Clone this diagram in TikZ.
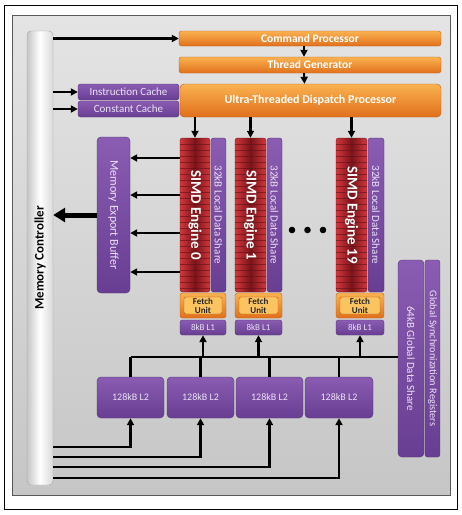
\documentclass[tikz,border=0pt]{standalone}
\usepackage{fontspec}
\setmainfont{Carlito}
\usetikzlibrary{arrows.meta}
\definecolor{orangeT}{RGB}{250,178,80}
\definecolor{orangeB}{RGB}{225,112,28}
\definecolor{fetchIn}{RGB}{252,196,96}
\definecolor{purpleT}{RGB}{138,92,178}
\definecolor{purpleB}{RGB}{104,62,146}
\definecolor{purpleTxt}{RGB}{236,226,246}
\definecolor{redL}{RGB}{210,55,60}
\definecolor{redD}{RGB}{120,20,26}
\definecolor{panelT}{RGB}{228,228,228}
\definecolor{panelB}{RGB}{198,198,198}

\begin{document}
\begin{tikzpicture}[x=1pt,y=-1pt,
  dims/.style 2 args={minimum width=#1pt,minimum height=#2pt},
  orangebox/.style={rectangle,inner sep=0pt,rounded corners=2.5pt,top color=orangeT,bottom color=orangeB,draw=orangeB!85!black,text=white,font=\bfseries\fontsize{11.5}{13}\selectfont},
  purplebox/.style={rectangle,inner sep=0pt,rounded corners=2.5pt,top color=purpleT,bottom color=purpleB,draw=purpleB!80!black,text=purpleTxt,font=\fontsize{11}{13}\selectfont},
  simdbox/.style={rectangle,inner sep=0pt,rounded corners=2.5pt,left color=redL,right color=redL,middle color=redD,draw=redD,
    path picture={\foreach \k in {1,...,26}
      \draw[redD!80!black,line width=0.7pt,opacity=0.6] ([yshift=-\k*6pt]path picture bounding box.north west) -- ([yshift=-\k*6pt]path picture bounding box.north east);}},
  fetchbox/.style={orangebox,align=center,text=black!85,font=\bfseries\fontsize{9}{9}\selectfont,
    path picture={\draw[orangeB!80!black,fill=fetchIn,rounded corners=1.5pt] ([xshift=4pt,yshift=-4pt]path picture bounding box.north west) rectangle ([xshift=-4pt,yshift=4pt]path picture bounding box.south east);}},
  enginetext/.style={rotate=-90,inner sep=0pt,text=white,font=\bfseries\fontsize{15}{16}\selectfont},
  vtext/.style={rotate=-90,inner sep=0pt,text=purpleTxt},
  wire/.style={draw,line width=2.2pt},
  arr/.style={wire,-{Triangle[length=7pt,width=7pt]}}]
\useasboundingbox (0,0) rectangle (462,515);
\draw[fill=white] (4,5) rectangle (457,509);
\draw[gray!70!black,top color=panelT,bottom color=panelB] (12,15) rectangle (450,495);

% memory controller
\node[rectangle,rounded corners=4pt,dims={26}{454},left color=gray!45,right color=gray!30,middle color=white,draw=gray!70,
  label={[rotate=90,font=\bfseries\fontsize{13}{15}\selectfont]center:Memory Controller}] (mc) at (40,258) {};

% front end
\node[orangebox,dims={262}{15}] (cp) at (310,38.5) {Command Processor};
\node[orangebox,dims={262}{16}] (tg) at (310,65) {Thread Generator};
\node[orangebox,dims={261}{33},rounded corners=4pt,font=\bfseries\fontsize{12}{14}\selectfont] (utdp) at (310.5,100.5) {Ultra-Threaded Dispatch Processor};
\node[purplebox,dims={101}{16}] (ic) at (128.5,92) {Instruction Cache};
\node[purplebox,dims={101}{16}] (cc) at (128.5,109) {Constant Cache};

\path[arr] (mc.east |- cp.west) -- (cp.west);
\path[arr,line width=2pt] ([xshift=-6pt]cp.south) -- ([xshift=-6pt]tg.north);
\path[arr,line width=2pt] ([xshift=-6pt]tg.south) -- ([xshift=-6pt]utdp.north);
\path[arr] (mc.east |- ic.west) -- (ic.west);
\path[arr] (mc.east |- cc.west) -- (cc.west);

% memory export buffer
\node[purplebox,dims={33}{156},rounded corners=4pt,
  label={[vtext,font=\fontsize{12}{13}\selectfont]center:Memory Export Buffer}] (meb) at (113.5,215) {};

% simd engines
\node[simdbox,dims={30}{154},label={[enginetext]center:SIMD Engine 0}] (e0) at (195,215) {};
\node[purplebox,dims={15}{154},label={[vtext,font=\fontsize{11}{12}\selectfont]center:32kB Local Data Share}] (lds0) at (218.5,215) {};
\node[simdbox,dims={31}{154},label={[enginetext]center:SIMD Engine 1}] (e1) at (250.5,215) {};
\node[purplebox,dims={15}{154},label={[vtext,font=\fontsize{11}{12}\selectfont]center:32kB Local Data Share}] (lds1) at (274.5,215) {};
\node[simdbox,dims={31}{154},label={[enginetext]center:SIMD Engine 19}] (e19) at (351.5,215) {};
\node[purplebox,dims={16}{154},label={[vtext,font=\fontsize{11}{12}\selectfont]center:32kB Local Data Share}] (lds19) at (376,215) {};

\fill (292,230) circle[radius=3.3pt];
\fill (307.5,230) circle[radius=3.3pt];
\fill (323,230) circle[radius=3.3pt];

\node[fetchbox,dims={46}{25}] (f0) at (203,305.5) {Fetch\\Unit};
\node[fetchbox,dims={47}{25}] (f1) at (258.5,305.5) {Fetch\\Unit};
\node[fetchbox,dims={48}{25}] (f19) at (360,305.5) {Fetch\\Unit};
\node[purplebox,dims={46}{15},font=\fontsize{9}{10}\selectfont] (l1a) at (203,327.5) {8kB L1};
\node[purplebox,dims={47}{15},font=\fontsize{9}{10}\selectfont] (l1b) at (258.5,327.5) {8kB L1};
\node[purplebox,dims={48}{15},font=\fontsize{9}{10}\selectfont] (l1c) at (360,327.5) {8kB L1};

\path[arr] (e0.north |- utdp.south) -- (e0.north);
\path[arr] (e1.north |- utdp.south) -- (e1.north);
\path[arr] (e19.north |- utdp.south) -- (e19.north);

\path[arr] (e0.west |- 0,158) -- (meb.east |- 0,158);
\path[arr] (e0.west |- 0,195) -- (meb.east |- 0,195);
\path[arr] (e0.west |- 0,233) -- (meb.east |- 0,233);
\path[arr] (e0.west |- 0,272) -- (meb.east |- 0,272);
\path[draw,line width=5pt,-{Triangle[length=12pt,width=14pt]}] (meb.west) -- (mc.east |- meb.west);

% global data share
\node[purplebox,dims={26}{197},rounded corners=4pt,label={[vtext,font=\fontsize{11}{12}\selectfont]center:64kB Global Data Share}] (gds) at (411,358.5) {};
\node[purplebox,dims={15}{197},label={[vtext,font=\fontsize{10.3}{11}\selectfont]center:Global Synchronization Registers}] (gsr) at (432.5,358.5) {};

% l2 caches
\node[purplebox,dims={67}{41},rounded corners=4pt,font=\fontsize{10}{11}\selectfont] (l2a) at (130.5,397.5) {128kB L2};
\node[purplebox,dims={67}{41},rounded corners=4pt,font=\fontsize{10}{11}\selectfont] (l2b) at (200.5,397.5) {128kB L2};
\node[purplebox,dims={67}{41},rounded corners=4pt,font=\fontsize{10}{11}\selectfont] (l2c) at (269.5,397.5) {128kB L2};
\node[purplebox,dims={68}{41},rounded corners=4pt,font=\fontsize{10}{11}\selectfont] (l2d) at (339,397.5) {128kB L2};

\coordinate (bus) at (130,357);
\path[wire] (l2a.north |- bus) -- (gds.west |- bus);
\path[wire] (l2a.north) -- (l2a.north |- bus);
\path[wire] (l2b.north) -- (l2b.north |- bus);
\path[wire] (l2c.north) -- (l2c.north |- bus);
\path[wire] (l2d.north) -- (l2d.north |- bus);
\path[arr] (l1a.south |- bus) -- (l1a.south);
\path[arr] (l1b.south |- bus) -- (l1b.south);
\path[arr] (l1c.south |- bus) -- (l1c.south);

\path[arr] (mc.east |- 0,447) -| (l2a.south);
\path[arr] (mc.east |- 0,457) -| (l2b.south);
\path[arr] (mc.east |- 0,467) -| (l2c.south);
\path[arr] (mc.east |- 0,478) -| (l2d.south);
\end{tikzpicture}
\end{document}
